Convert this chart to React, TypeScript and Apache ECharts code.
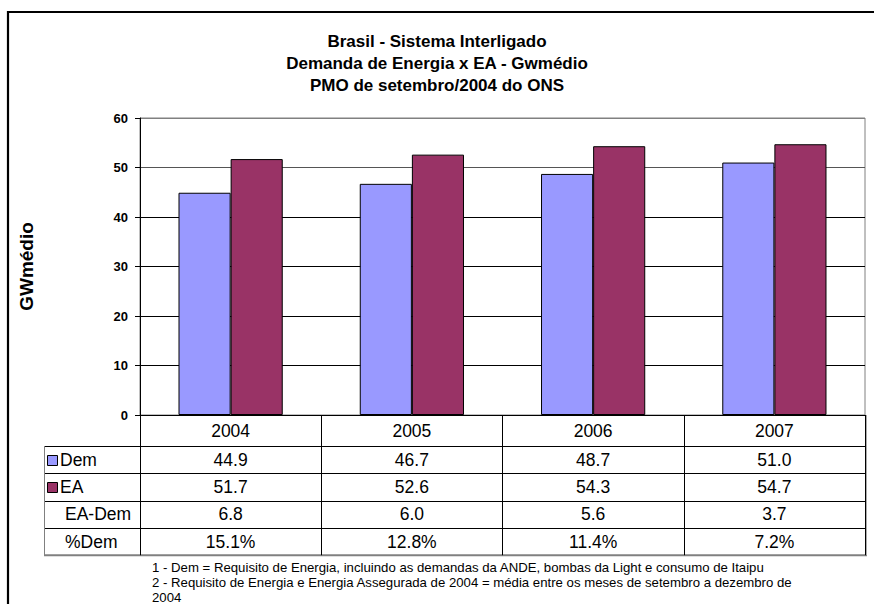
import React, { useEffect, useRef } from 'react';
import * as echarts from 'echarts';

const categories = ['2004', '2005', '2006', '2007'];
const demValues = [44.9, 46.7, 48.7, 51.0];
const eaValues = [51.7, 52.6, 54.3, 54.7];
const diffLabels = ['6.8', '6.0', '5.6', '3.7'];
const pctLabels = ['15.1%', '12.8%', '11.4%', '7.2%'];
const rowNames = ['Dem', 'EA', 'EA-Dem', '%Dem'];
const titleLines = [
  'Brasil - Sistema Interligado',
  'Demanda de Energia x EA - Gwmédio',
  'PMO de setembro/2004 do ONS',
];
const footnotes = [
  '1 - Dem = Requisito de Energia, incluindo as demandas da ANDE, bombas da Light e consumo de Itaipu',
  '2 - Requisito de Energia e Energia Assegurada de 2004 = média entre os meses de setembro a dezembro de',
  '2004',
];
const yAxisName = 'GWmédio';
const yMin = 0;
const yMax = 60;
const yStep = 10;

const DEM_COLOR = '#9999FF';
const EA_COLOR = '#993366';
const FONT = '"Liberation Sans", Arial, sans-serif';

export default function App() {
  const ref = useRef<HTMLDivElement>(null);
  useEffect(() => {
    if (!ref.current) return;
    const chart = echarts.init(ref.current, undefined, { renderer: 'svg' });

    const gridLeft = 140;
    const gridTop = 118;
    const gridRight = 9;
    const axisY = 415;
    const gridBottom = 604 - axisY;
    const headerH = 31;
    const rowH = 27.3;
    const tableLeft = 44;
    const tableRight = 865;
    const tableBottom = axisY + headerH + rowH * 4;

    const rowCenters = [0, 1, 2, 3].map((i) => axisY + headerH + rowH * i + rowH / 2);
    const rowValueLists = [
      demValues.map((v) => v.toFixed(1)),
      eaValues.map((v) => v.toFixed(1)),
      diffLabels,
      pctLabels,
    ];

    const labelStyle = { fontSize: 17.5, color: '#000', fontFamily: FONT };

    const xAxes: any[] = [
      {
        type: 'category',
        data: categories,
        position: 'bottom',
        axisLine: { show: true, lineStyle: { color: '#000', width: 1 } },
        axisTick: { show: true, length: tableBottom - axisY, lineStyle: { color: '#000', width: 1 } },
        axisLabel: { ...labelStyle, interval: 0, margin: headerH / 2, verticalAlign: 'middle' },
        splitLine: { show: false },
      },
    ];
    rowValueLists.forEach((vals, r) => {
      xAxes.push({
        type: 'category',
        data: categories,
        position: 'bottom',
        axisLine: { show: false },
        axisTick: { show: false },
        splitLine: { show: false },
        axisLabel: {
          ...labelStyle,
          interval: 0,
          margin: rowCenters[r] - axisY,
          verticalAlign: 'middle',
          formatter: (_v: string, idx: number) => vals[idx],
        },
      });
    });

    const graphics: any[] = [
      {
        type: 'rect',
        shape: { x: 8, y: 12, width: 1000, height: 1000 },
        style: { fill: 'none', stroke: '#000', lineWidth: 2.2 },
        silent: true,
      },
    ];
    // table horizontal lines
    [0, 1, 2, 3].forEach((i) => {
      const y = Math.round(axisY + headerH + rowH * i) + 0.5;
      graphics.push({
        type: 'line',
        shape: { x1: tableLeft, y1: y, x2: tableRight, y2: y },
        style: { stroke: '#000', lineWidth: 1 },
        silent: true,
      });
    });
    graphics.push({
      type: 'line',
      shape: { x1: tableLeft, y1: tableBottom, x2: tableRight + 2, y2: tableBottom },
      style: { stroke: '#808080', lineWidth: 2 },
      silent: true,
    });
    graphics.push({
      type: 'line',
      shape: { x1: tableLeft + 0.5, y1: axisY + headerH, x2: tableLeft + 0.5, y2: tableBottom },
      style: { stroke: '#808080', lineWidth: 1 },
      silent: true,
    });
    graphics.push({
      type: 'line',
      shape: { x1: tableRight + 1.5, y1: axisY, x2: tableRight + 1.5, y2: tableBottom },
      style: { stroke: '#aaaaaa', lineWidth: 1 },
      silent: true,
    });
    // row names and keys
    const keyColors = [DEM_COLOR, EA_COLOR, null, null];
    rowNames.forEach((name, i) => {
      const cy = rowCenters[i];
      const color = keyColors[i];
      if (color) {
        graphics.push({
          type: 'rect',
          shape: { x: 47.5, y: Math.round(cy - 4.5) + 0.5, width: 10, height: 10 },
          style: { fill: color, stroke: '#000', lineWidth: 1 },
          silent: true,
        });
      }
      graphics.push({
        type: 'text',
        x: color ? 60 : 65,
        y: cy,
        style: { text: name, fontSize: 17.5, fontFamily: FONT, fill: '#000', verticalAlign: 'middle', align: 'left' },
        silent: true,
      });
    });
    // footnotes
    footnotes.forEach((t, i) => {
      graphics.push({
        type: 'text',
        x: 152,
        y: 567 + i * 15,
        style: { text: t, fontSize: 13.2, fontFamily: FONT, fill: '#000', verticalAlign: 'middle', align: 'left' },
        silent: true,
      });
    });

    const option: any = {
      animation: false,
      backgroundColor: '#fff',
      title: {
        text: titleLines.join('\n'),
        left: 'center',
        top: 25,
        textStyle: { fontSize: 17, fontWeight: 'bold', fontFamily: FONT, color: '#000', lineHeight: 22 },
      },
      grid: {
        left: gridLeft,
        top: gridTop,
        right: gridRight,
        bottom: gridBottom,
        show: true,
        borderColor: '#808080',
        borderWidth: 1,
        containLabel: false,
      },
      xAxis: xAxes,
      yAxis: {
        type: 'value',
        min: yMin,
        max: yMax,
        interval: yStep,
        name: yAxisName,
        nameLocation: 'middle',
        nameGap: 104,
        nameTextStyle: { fontSize: 19, fontWeight: 'bold', fontFamily: FONT, color: '#000' },
        axisLine: { show: true, lineStyle: { color: '#000', width: 1 } },
        axisTick: { show: true, length: 5, lineStyle: { color: '#000' } },
        axisLabel: { fontSize: 13, fontWeight: 'bold', fontFamily: FONT, color: '#000', margin: 12 },
        splitLine: {
          show: true,
          lineStyle: { color: ['#000', '#000', '#000', '#000', '#000', '#555', '#808080'], width: 1 },
        },
      },
      series: [
        {
          name: rowNames[0],
          type: 'bar',
          data: demValues,
          xAxisIndex: 0,
          barGap: '0%',
          barCategoryGap: '42.5%',
          itemStyle: { color: DEM_COLOR, borderColor: '#000', borderWidth: 1 },
        },
        {
          name: rowNames[1],
          type: 'bar',
          data: eaValues,
          xAxisIndex: 0,
          barGap: '0%',
          barCategoryGap: '42.5%',
          itemStyle: { color: EA_COLOR, borderColor: '#000', borderWidth: 1 },
        },
      ],
      graphic: graphics,
    };
    chart.setOption(option);
    return () => chart.dispose();
  }, []);

  return (
    <div
      ref={ref}
      style={{ position: 'fixed', left: 0, top: 0, width: 874, height: 604, background: '#fff' }}
    />
  );
}
